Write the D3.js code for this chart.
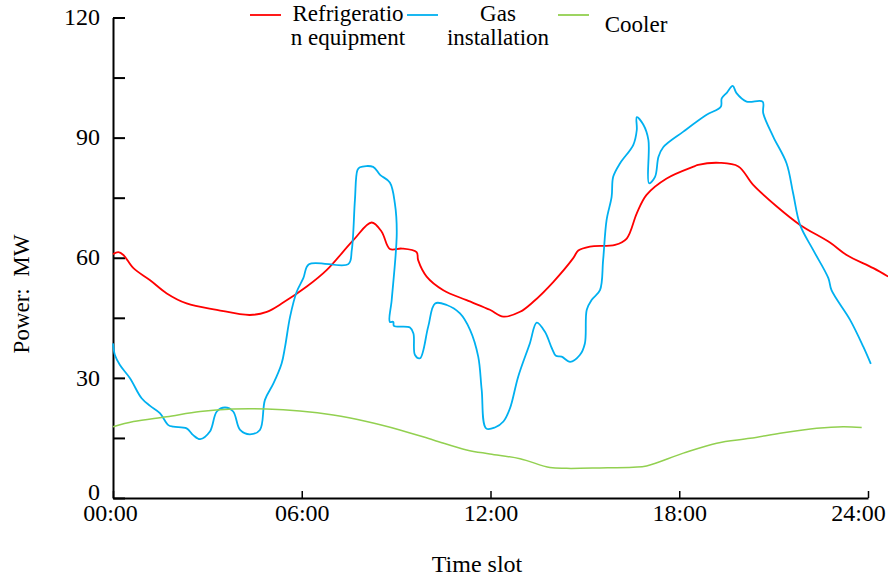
<!DOCTYPE html>
<html>
<head>
<meta charset="utf-8">
<script src="https://cdn.jsdelivr.net/npm/d3@7"></script>
<style>
  body { margin: 0; background: #fff; }
  text { font-family: "Liberation Serif", "Times New Roman", serif; fill: #000; }
</style>
</head>
<body>
<svg id="chart" width="888" height="580"></svg>
<script>
// values (hour of day, MW)
const refHours = [0, 0.17, 0.33, 0.65, 1.18, 1.71, 2.34, 3.30, 4.35, 4.89, 5.41, 6.16, 6.79, 7.64, 8.22, 8.54, 8.80, 9.18, 9.65, 9.70, 9.97, 10.5, 11.24, 11.98, 12.41, 12.94, 13.36, 14.0, 14.63, 14.79, 15.16, 15.96, 16.33, 16.65, 16.96, 17.6, 18.5, 18.6, 19.29, 19.88, 20.35, 21.1, 21.84, 22.79, 23.32, 24.17, 24.64]
const refPower = [60.9, 61.4, 60.7, 57.4, 54.4, 51.1, 48.6, 47.0, 45.7, 46.5, 48.8, 52.8, 56.9, 64.4, 68.8, 66.5, 62.2, 62.3, 61.4, 59.4, 55.3, 51.9, 49.4, 47.0, 45.3, 46.5, 49.0, 54.0, 59.9, 61.8, 62.8, 63.2, 64.8, 71.1, 75.7, 79.8, 82.9, 83.2, 83.7, 82.8, 78.2, 72.8, 68.2, 63.8, 60.7, 57.4, 55.3]

const gasHours = [0, 0.06, 0.22, 0.54, 0.91, 1.18, 1.49, 1.76, 1.92, 2.34, 2.55, 2.77, 3.08, 3.30, 3.56, 3.82, 4.04, 4.35, 4.67, 4.83, 5.1, 5.36, 5.47, 5.63, 5.84, 6.05, 6.23, 7.48, 7.59, 7.69, 7.77, 7.85, 8.27, 8.49, 8.80, 8.96, 9.02, 8.86, 8.80, 8.91, 8.93, 9.44, 9.55, 9.6, 9.76, 10.02, 10.24, 10.61, 11.03, 11.35, 11.61, 11.72, 11.86, 12.14, 12.41, 12.62, 12.88, 13.25, 13.47, 13.73, 13.95, 14.08, 14.26, 14.53, 14.84, 15.0, 15.06, 15.22, 15.48, 15.58, 15.69, 15.85, 15.9, 16.12, 16.54, 16.65, 16.65, 16.86, 17.02, 17.04, 17.23, 17.34, 17.49, 18.13, 18.87, 19.32, 19.35, 19.51, 19.70, 19.82, 20.14, 20.65, 20.67, 20.99, 21.41, 21.62, 21.84, 22.26, 22.74, 22.84, 23.43, 23.85, 24.09]
const gasPower = [38.6, 35.7, 33.2, 29.9, 24.9, 23.0, 21.2, 18.2, 17.8, 17.4, 15.7, 14.7, 16.6, 21.6, 22.6, 21.6, 17.0, 15.9, 17.0, 24.5, 28.6, 33.6, 37.8, 45.3, 51.5, 54.9, 58.4, 58.4, 61.9, 74.4, 81.9, 82.6, 82.7, 80.7, 78.8, 73.6, 66.1, 49.5, 44.0, 44.0, 43.0, 42.6, 41.1, 35.7, 34.9, 42.8, 48.6, 48.2, 46.1, 42.0, 35.3, 27.0, 17.4, 17.6, 19.1, 22.4, 30.3, 38.6, 43.8, 41.5, 37.4, 35.5, 35.3, 34.0, 35.7, 38.6, 47.0, 49.5, 51.9, 59.4, 69.4, 75.2, 80.2, 83.6, 88.2, 91.9, 95.1, 93.2, 89.4, 78.6, 80.2, 85.2, 87.6, 91.5, 95.7, 97.7, 99.8, 101.2, 102.9, 101.1, 99.0, 99.0, 96.1, 90.2, 83.6, 76.1, 68.2, 61.9, 54.9, 51.9, 44.5, 37.8, 33.5]

const coolHours = [0, 0.65, 1.71, 2.77, 3.82, 4.89, 5.94, 7.0, 8.06, 9.12, 10.18, 11.24, 11.98, 12.94, 13.89, 14.42, 15.48, 16.54, 16.96, 18.13, 19.19, 20.25, 21.31, 22.37, 23.21, 23.8]
const coolPower = [17.8, 19.1, 20.3, 21.6, 22.2, 22.2, 21.7, 20.7, 19.1, 17.0, 14.5, 12.0, 11.0, 9.8, 7.6, 7.4, 7.5, 7.7, 8.0, 11.2, 13.7, 14.9, 16.3, 17.4, 17.8, 17.6]

const seriesNames = ['Refrigeration equipment', 'Gas installation', 'Cooler']
const legendLines = [['Refrigeratio', 'n equipment'], ['Gas', 'installation'], ['Cooler']]
const seriesColors = ['#ff0000', '#00b0f0', '#92d050']

const xTicks = [0, 6, 12, 18, 24]
const yTicks = [0, 15, 30, 45, 60, 75, 90, 105, 120]

let series = [
    {hours: refHours, power: refPower},
    {hours: gasHours, power: gasPower},
    {hours: coolHours, power: coolPower}
].map((s, i) => ({
    name: seriesNames[i],
    color: seriesColors[i],
    points: s.hours.map((h, j) => [h, s.power[j]])
}))

const svg = d3.select('#chart')

let x = d3.scaleLinear().domain([0, 24]).range([113, 868])
let y = d3.scaleLinear().domain([0, 120]).range([498, 17.5])

// y axis, ticks point inward
let yAxis = svg.append('g')
    .attr('transform', `translate(${x(0)},0)`)
    .call(d3.axisLeft(y)
        .tickValues(yTicks)
        .tickSize(-12)
        .tickSizeOuter(0)
        .tickPadding(13)
        .tickFormat(d => d % 30 === 0 ? d : ''))
yAxis.select('.domain').attr('stroke-width', 2)
yAxis.selectAll('.tick line').attr('stroke-width', 2)
yAxis.selectAll('text')
    .style('font-size', '24px')
    .attr('dy', d => d === 0 ? '0.05em' : '0.3em')

let xAxis = svg.append('g')
    .attr('transform', `translate(0,${y(0)})`)
    .call(d3.axisBottom(x)
        .tickValues(xTicks)
        .tickSize(-7)
        .tickSizeOuter(0)
        .tickPadding(6)
        .tickFormat(d => d3.format('02d')(d) + ':00'))
xAxis.select('.domain').attr('stroke-width', 2)
xAxis.selectAll('.tick line').attr('stroke-width', 1.5)
xAxis.selectAll('text')
    .style('font-size', '24px')
    .attr('x', d => d === 0 ? -3 : (d === 24 ? -10 : 0))

// axis titles
svg.append('text')
    .attr('x', 477)
    .attr('y', 572)
    .attr('text-anchor', 'middle')
    .style('font-size', '24px')
    .text('Time slot')

svg.append('text')
    .attr('transform', 'translate(29,294) rotate(-90)')
    .attr('text-anchor', 'middle')
    .style('font-size', '23px')
    .style('white-space', 'pre')
    .text('Power:  MW')

// lines
let line = d3.line()
    .x(d => x(d[0]))
    .y(d => y(d[1]))
    .curve(d3.curveCatmullRom.alpha(0.5))

svg.append('g')
    .selectAll('path')
    .data(series)
    .enter()
    .append('path')
    .attr('d', d => line(d.points))
    .attr('fill', 'none')
    .attr('stroke', d => d.color)
    .attr('stroke-width', (d, i) => i == 2 ? 1.5 : 1.8)

// legend
const legendLineX = [250, 407, 558]
const legendTextX = [348, 498, 636]
let legend = svg.append('g')
    .selectAll('g')
    .data(series)
    .enter()
    .append('g')

legend.append('line')
    .attr('x1', (d, i) => legendLineX[i])
    .attr('x2', (d, i) => legendLineX[i] + 31)
    .attr('y1', 15)
    .attr('y2', 15)
    .attr('stroke', d => d.color)
    .attr('stroke-width', 1.8)

legend.each(function (d, i) {
    let rows = legendLines[i]
    let t = d3.select(this).append('text')
        .attr('text-anchor', 'middle')
        .style('font-size', '23px')
    rows.forEach((r, k) => {
        t.append('tspan')
            .attr('x', legendTextX[i])
            .attr('y', rows.length == 1 ? 32 : 21 + k * 24)
            .text(r)
    })
})
</script>
</body>
</html>
